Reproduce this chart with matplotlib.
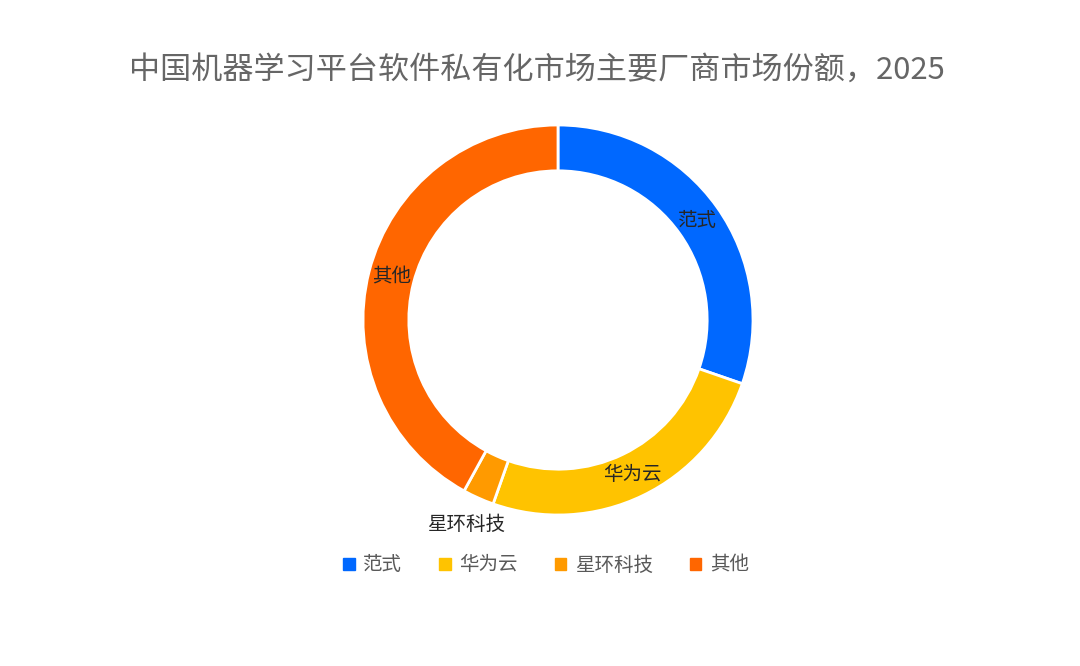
import matplotlib
matplotlib.use("Agg")
import numpy as np
import matplotlib.pyplot as plt

plt.rcParams['font.family'] = ['Noto Sans CJK SC', 'DejaVu Sans']

# data (share, %)
vendors = ['范式', '华为云', '星环科技', '其他']
shares = [30.3, 25.1, 2.6, 42.0]
colors = ['#0068FF', '#FFC300', '#FF9A00', '#FF6600']

title = '中国机器学习平台软件私有化市场主要厂商市场份额，2025'

fig = plt.figure(figsize=(10.8, 6.66), dpi=100)
W, H = 1080, 666
cx, cy, r = 558, 320, 195
ax = fig.add_axes([(cx - r) / W, (H - cy - r) / H, 2 * r / W, 2 * r / H])

wedges, _ = ax.pie(shares, colors=colors, startangle=90, counterclock=False,
                   radius=1.0, wedgeprops=dict(width=0.235, edgecolor='white', linewidth=2))
ax.set_xlim(-1, 1)
ax.set_ylim(-1, 1)
ax.set_aspect('equal')
ax.axis('off')

# labels in the ring, small slice label outside
for w, name in zip(wedges, vendors):
    ang = np.deg2rad((w.theta1 + w.theta2) / 2)
    rr = 0.88 if name != '星环科技' else 1.15
    ax.text(rr * np.cos(ang), rr * np.sin(ang), name, ha='center', va='center',
            fontsize=14, color='#262626', clip_on=False)

fig.text(536.5 / W, (H - 70) / H, title, ha='center', va='center', fontsize=22.4, color='#666666')

handles = [plt.Rectangle((0, 0), 1, 1, color=c) for c in colors]
fig.legend(handles, vendors, loc='center', bbox_to_anchor=(546 / W, (H - 565) / H), ncol=4,
           frameon=False, fontsize=14, handlelength=0.58, handleheight=0.58,
           columnspacing=1.9, handletextpad=0.45, labelcolor='#595959')

fig.savefig('out.png', dpi=100, facecolor='white')
